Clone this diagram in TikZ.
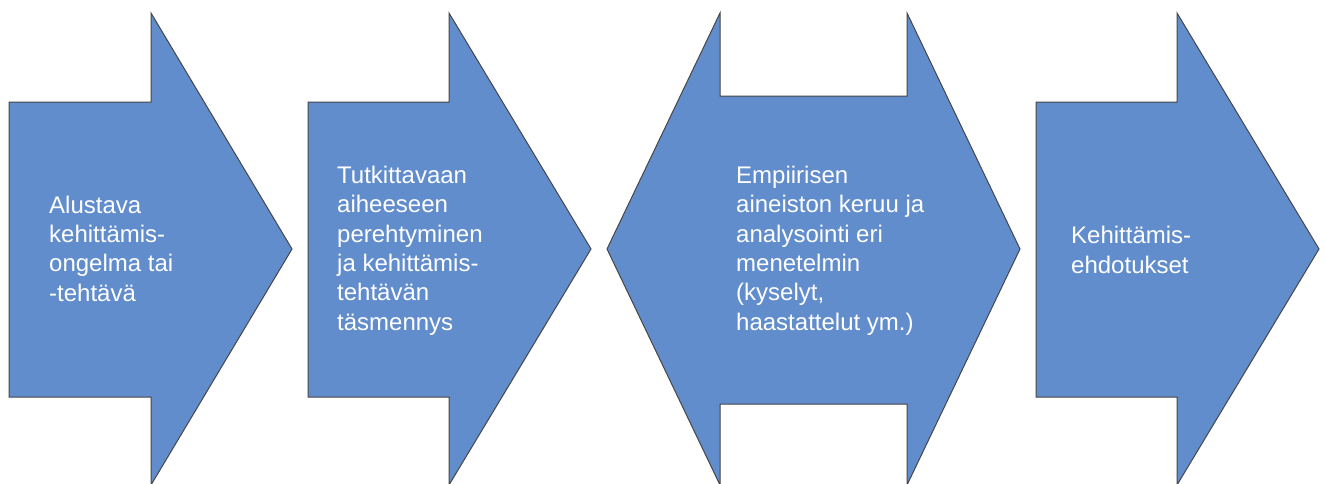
\documentclass[tikz,border=0pt]{standalone}
\usepackage{fontspec}
\setmainfont{Liberation Sans}
\definecolor{arrowfill}{RGB}{97,141,205}
\definecolor{arrowline}{RGB}{70,70,70}
\begin{document}
\begin{tikzpicture}[x=1pt,y=-1pt,
  stage/.style={fill=arrowfill, draw=arrowline, line width=1pt, line join=miter},
  label/.style={anchor=base west, inner sep=0pt, align=left, text=white,
    font=\fontsize{24}{29.3}\selectfont}]
\useasboundingbox (0,0) rectangle (1325,483);
\clip (0,0) rectangle (1325,483);
% stage 1
\draw[stage] (9,102) -- (151,102) -- (151,13) -- (292,249) -- (151,485) -- (151,397) -- (9,397) -- cycle;
% stage 2
\draw[stage] (308,102) -- (449,102) -- (449,13) -- (591,249) -- (449,485) -- (449,397) -- (308,397) -- cycle;
% stage 3: double-headed
\draw[stage] (607,249) -- (720,13) -- (720,96) -- (907,96) -- (907,13) -- (1020,249) -- (907,485) -- (907,404) -- (720,404) -- (720,485) -- cycle;
% stage 4
\draw[stage] (1036,102) -- (1177,102) -- (1177,13) -- (1319,249) -- (1177,485) -- (1177,397) -- (1036,397) -- cycle;
% texts, placed by the baseline of their last line
\node[label] (t1) at (49,301) {Alustava\\kehittämis-\\ongelma tai\\-tehtävä};
\node[label] (t2) at (337,330) {Tutkittavaan\\aiheeseen\\perehtyminen\\ja kehittämis-\\tehtävän\\täsmennys};
\node[label] (t3) at (736,330) {Empiirisen\\aineiston keruu ja\\analysointi eri\\menetelmin\\(kyselyt,\\haastattelut ym.)};
\node[label] (t4) at (1071,273) {Kehittämis-\\ehdotukset};
\end{tikzpicture}
\end{document}
